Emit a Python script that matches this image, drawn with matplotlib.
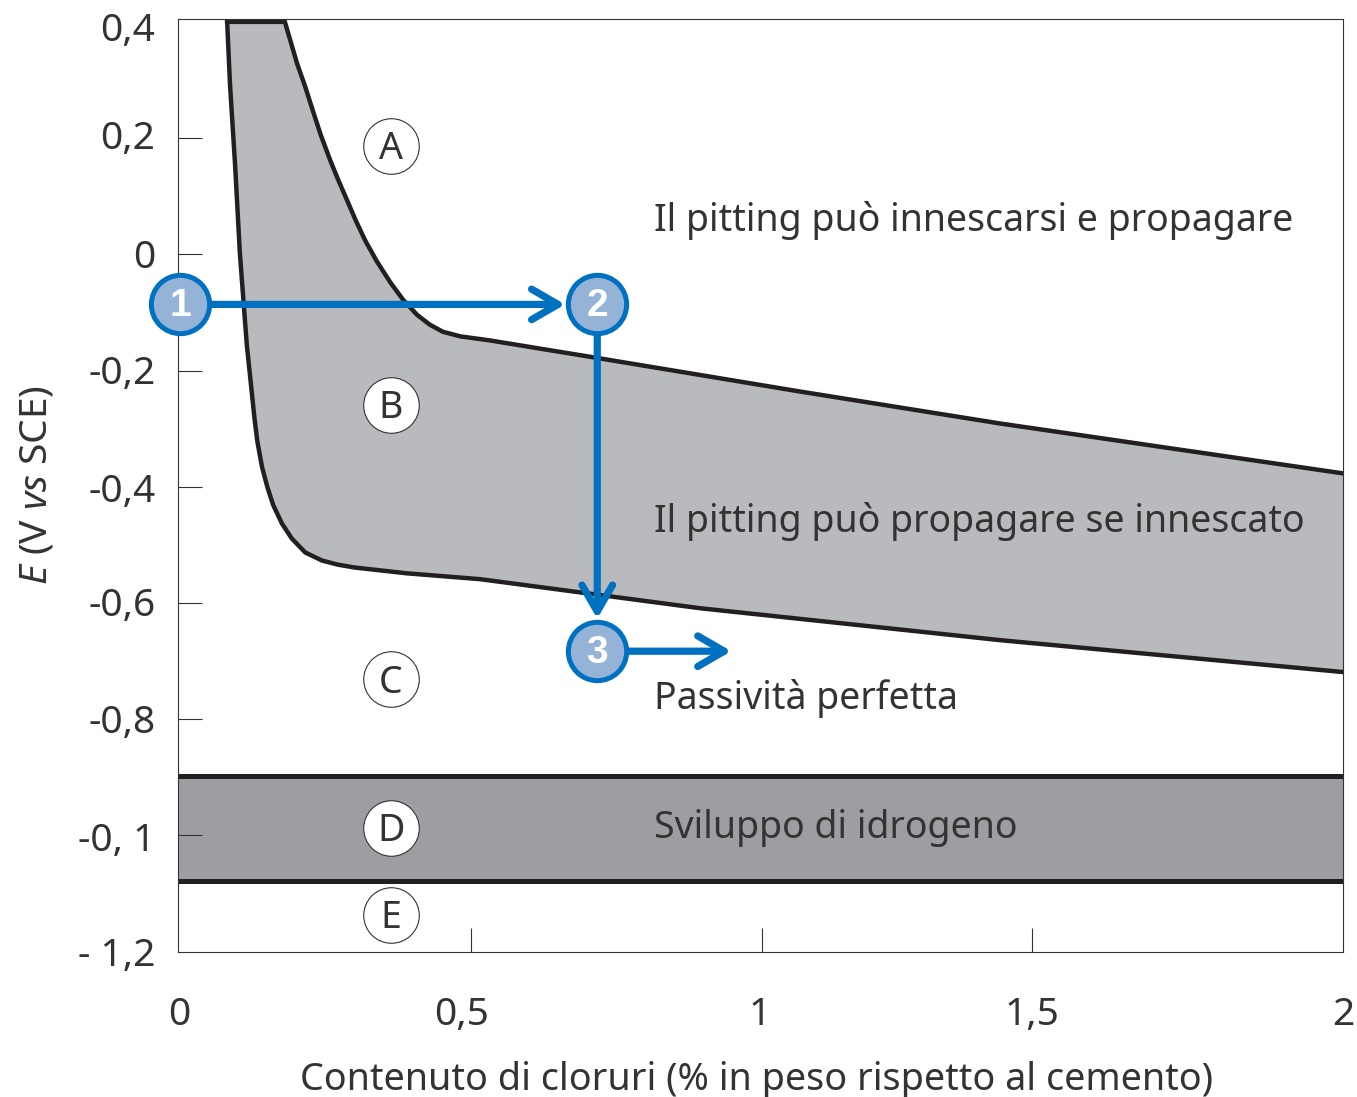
import matplotlib
matplotlib.use('Agg')
import matplotlib.pyplot as plt

plt.rcParams['font.family'] = ['Noto Sans', 'DejaVu Sans']
plt.rcParams['mathtext.fontset'] = 'custom'
plt.rcParams['mathtext.rm'] = 'Noto Sans'
plt.rcParams['mathtext.it'] = 'Noto Sans:italic'

# upper boundary of the grey band (pitting potential)
upper_x = [0.183, 0.205, 0.219, 0.232, 0.246, 0.262, 0.275, 0.291, 0.306, 0.322, 0.342, 0.365, 0.387, 0.411,
           0.433, 0.455, 0.485, 0.536, 0.725, 1.068, 1.411, 2.0]
upper_y = [0.4045, 0.329, 0.289, 0.248, 0.205, 0.162, 0.130, 0.093, 0.058, 0.024, -0.012, -0.048, -0.078, -0.104,
           -0.121, -0.133, -0.141, -0.148, -0.179, -0.236, -0.291, -0.377]

# lower boundary (protection potential)
lower_x = [0.085, 0.090, 0.099, 0.107, 0.114, 0.119, 0.128, 0.132, 0.137, 0.145, 0.154, 0.164, 0.179, 0.196, 0.219,
           0.248, 0.275, 0.304, 0.394, 0.519, 0.896, 1.411, 2.0]
lower_y = [0.4045, 0.294, 0.150, 0.002, -0.091, -0.157, -0.243, -0.282, -0.322, -0.366, -0.400, -0.431, -0.463, -0.489, -0.513,
           -0.527, -0.534, -0.539, -0.549, -0.559, -0.609, -0.664, -0.719]

# hydrogen evolution band
hydrogen_top = -0.898
hydrogen_bottom = -1.078

y_ticks = [0.2, 0, -0.2, -0.4, -0.6, -0.8, -1.0]
y_label_pos = [0.384, 0.198, -0.006, -0.205, -0.409, -0.606, -0.807, -1.009, -1.207]
y_labels = ['0,4', '0,2', '0', '-0,2', '-0,4', '-0,6', '-0,8', '-0, 1', '- 1,2']
x_ticks = [0.504, 1.002, 1.465]
x_label_pos = [0.003, 0.488, 0.999, 1.465, 2.0]
x_labels = ['0', '0,5', '1', '1,5', '2']

zone_names = ['A', 'B', 'C', 'D', 'E']
zone_x = [0.366, 0.366, 0.366, 0.366, 0.366]
zone_y = [0.187, -0.259, -0.731, -0.987, -1.137]

region_labels = ['Il pitting può innescarsi e propagare', 'Il pitting può propagare se innescato',
                 'Passività perfetta', 'Sviluppo di idrogeno']
region_x = [0.818, 0.818, 0.818, 0.818]
region_y = [0.058, -0.460, -0.765, -0.987]

step_names = ['1', '2', '3']
step_x = [0.005, 0.72, 0.72]
step_y = [-0.086, -0.086, -0.683]
arrow_end_x = [0.665, 0.72, 0.95]
arrow_end_y = [-0.086, -0.627, -0.683]

dark = '#231f20'
text_col = '#333333'
blue = '#0070c0'

fig = plt.figure(figsize=(13.57, 10.97), dpi=100)
ax = fig.add_axes([177.5 / 1357, (1097 - 951.5) / 1097, 1166 / 1357, 932 / 1097])
ax.set_xlim(0, 2)
ax.set_ylim(-1.2, 0.4045)

# grey band between the two curves, closed along the top edge
band_x = upper_x + lower_x[::-1]
band_y = upper_y + lower_y[::-1]
ax.fill(band_x, band_y, color='#b9babe', lw=0, zorder=1)
ax.plot(upper_x, upper_y, color=dark, lw=3.2, zorder=2)
ax.plot(lower_x, lower_y, color=dark, lw=3.2, zorder=2)
ax.plot([lower_x[0], upper_x[0]], [0.4, 0.4], color=dark, lw=3, zorder=2)

ax.axhspan(hydrogen_bottom, hydrogen_top, color='#9d9ea1', lw=0, zorder=1)
ax.axhline(hydrogen_top, color=dark, lw=3.6, zorder=2)
ax.axhline(hydrogen_bottom, color=dark, lw=3.6, zorder=2)

for s in ax.spines.values():
    s.set_linewidth(0.8)
    s.set_color(text_col)

ax.set_yticks(y_ticks)
ax.set_yticklabels([])
ax.set_xticks(x_ticks)
ax.set_xticklabels([])
ax.tick_params(axis='both', direction='in', length=17, width=0.8, color=text_col)

for y, lab in zip(y_label_pos, y_labels):
    ax.text(-0.038, y, lab, ha='right', va='center', fontsize=28, color=text_col, clip_on=False)
for x, lab in zip(x_label_pos, x_labels):
    ax.text(x, -1.31, lab, ha='center', va='center', fontsize=28, color=text_col, clip_on=False)

ax.set_xlabel('Contenuto di cloruri (% in peso rispetto al cemento)', fontsize=27.2, color=text_col)
ax.xaxis.set_label_coords(0.497, -0.118)
ax.set_ylabel(r'$\mathit{E}$ (V $\mathit{vs}$ SCE)', fontsize=28, color=text_col)
ax.yaxis.set_label_coords(-0.105, 0.5)

# region labels
for x, y, lab in zip(region_x, region_y, region_labels):
    ax.text(x, y, lab, ha='left', va='center', fontsize=27, color=text_col, zorder=3)

# lettered circles
ax.plot(zone_x, zone_y, 'o', ms=40, mfc='white', mec=text_col, mew=0.8, ls='none', zorder=4)
for x, y, lab in zip(zone_x, zone_y, zone_names):
    ax.annotate(lab, (x, y), xytext=(0, -2.5), textcoords='offset points', ha='center', va='center',
                fontsize=27, color=text_col, zorder=5)

# blue path
for i in range(3):
    ax.annotate('', xy=(arrow_end_x[i], arrow_end_y[i]), xytext=(step_x[i], step_y[i]),
                arrowprops=dict(arrowstyle='->,head_length=19,head_width=11', mutation_scale=1,
                                color=blue, lw=5.2, shrinkA=0, shrinkB=0),
                zorder=6, annotation_clip=False)

ax.plot(step_x, step_y, 'o', ms=42, mfc='#95b3d7', mec=blue, mew=3.6, ls='none', zorder=7, clip_on=False)
for x, y, lab in zip(step_x, step_y, step_names):
    ax.annotate(lab, (x, y), xytext=(0, -1), textcoords='offset points', ha='center', va='center',
                fontsize=28, fontweight='bold', family=['Liberation Sans', 'DejaVu Sans'],
                color='white', zorder=8, annotation_clip=False)

fig.savefig('out.png', dpi=100)
